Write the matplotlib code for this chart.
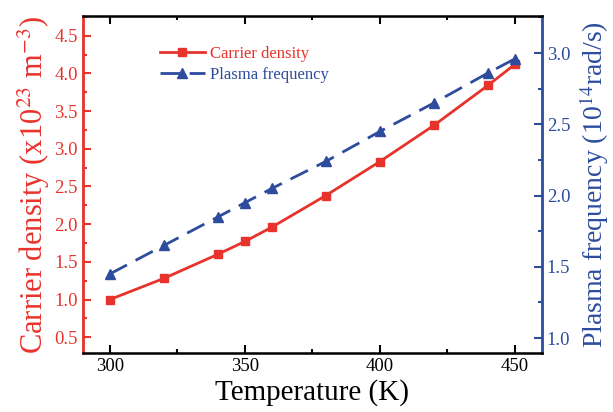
import matplotlib.pyplot as plt
from matplotlib.ticker import MultipleLocator

temp = [300, 320, 340, 350, 360, 380, 400, 420, 440, 450]
carrier = [1.00, 1.28, 1.60, 1.77, 1.96, 2.38, 2.83, 3.31, 3.84, 4.12]
plasma = [1.45, 1.65, 1.85, 1.95, 2.05, 2.24, 2.45, 2.65, 2.86, 2.96]

red = "#e8332c"
blue = "#2e4c9e"

plt.rcParams["font.family"] = "Liberation Serif"
plt.rcParams["mathtext.fontset"] = "stix"

fig = plt.figure(figsize=(6.13, 4.12), dpi=100)
ax = fig.add_axes([0.135, 0.143, 0.749, 0.818])
ax2 = ax.twinx()

l1, = ax.plot(temp, carrier, "-s", color=red, lw=2, ms=6, label="Carrier density")
l2, = ax2.plot(temp, plasma, "--^", color=blue, lw=2, ms=7, dashes=(7, 3.5), label="Plasma frequency")

ax.set_xlim(290, 460)
ax.set_ylim(0.29, 4.76)
ax2.set_ylim(0.895, 3.26)

ax.xaxis.set_major_locator(MultipleLocator(50))
ax.xaxis.set_minor_locator(MultipleLocator(25))
ax.yaxis.set_major_locator(MultipleLocator(0.5))
ax.yaxis.set_minor_locator(MultipleLocator(0.25))
ax2.yaxis.set_major_locator(MultipleLocator(0.5))
ax2.yaxis.set_minor_locator(MultipleLocator(0.25))

ax.tick_params(axis="x", which="both", direction="in", top=True, labelsize=13.5, width=1.5)
ax.tick_params(axis="x", which="major", length=6)
ax.tick_params(axis="x", which="minor", length=3)
ax.tick_params(axis="y", which="both", direction="in", colors=red, labelsize=13.5, width=1.5)
ax.tick_params(axis="y", which="major", length=6)
ax.tick_params(axis="y", which="minor", length=3)
ax2.tick_params(axis="y", which="both", direction="in", colors=blue, labelsize=13.5, width=1.5)
ax2.tick_params(axis="y", which="major", length=6)
ax2.tick_params(axis="y", which="minor", length=3)

for s in ["top", "bottom"]:
    ax2.spines[s].set_linewidth(1.8)
ax2.spines["left"].set_color(red)
ax2.spines["left"].set_linewidth(2)
ax2.spines["right"].set_color(blue)
ax2.spines["right"].set_linewidth(2)

ax.set_xlabel("Temperature (K)", fontsize=21, labelpad=3)
ax.set_ylabel("Carrier density (x10$^{23}$ m$^{-3}$)", fontsize=22, color=red, labelpad=2)
ax2.set_ylabel("Plasma frequency (10$^{14}$rad/s)", fontsize=20, color=blue, labelpad=5)

ax.legend(handles=[l1, l2], loc="upper left", bbox_to_anchor=(0.135, 0.955), frameon=False,
          fontsize=12, labelcolor="linecolor", handlelength=2.7, handletextpad=0.3,
          labelspacing=0.3)

fig.savefig("out.png", dpi=100)
